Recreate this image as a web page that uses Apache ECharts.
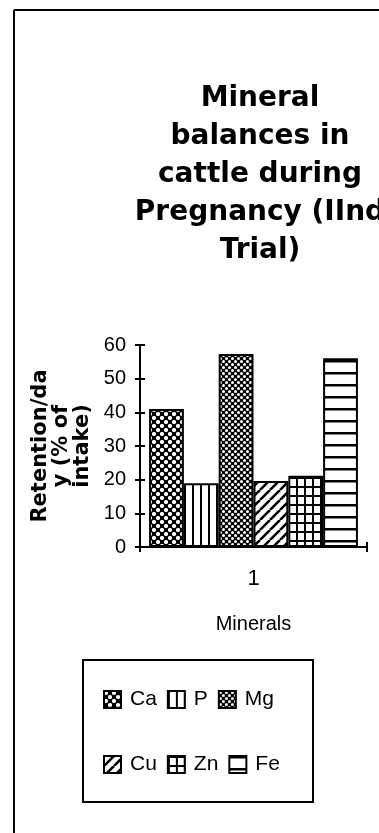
<!DOCTYPE html>
<html>
<head>
<meta charset="utf-8">
<script src="https://cdn.jsdelivr.net/npm/echarts@6/dist/echarts.min.js"></script>
<style>
  html, body { margin: 0; padding: 0; background: #fff; }
  #chart { width: 379px; height: 833px; }
</style>
</head>
<body>
<div id="chart"></div>
<script>
// Mineral retention per day, % of intake (one trial group)
const categories = ['1'];
const minerals = ['Ca', 'P', 'Mg', 'Cu', 'Zn', 'Fe'];
const retention = [41, 18.9, 57.3, 19.6, 21.2, 56.1];
const yMin = 0, yMax = 60, yStep = 10;

// Black-and-white fill patterns, one per mineral
function tile(w, h, draw) {
  const c = document.createElement('canvas');
  c.width = w; c.height = h;
  const g = c.getContext('2d');
  g.fillStyle = '#fff';
  g.fillRect(0, 0, w, h);
  g.fillStyle = '#000';
  g.strokeStyle = '#000';
  draw(g, w, h);
  return { image: c, repeat: 'repeat' };
}
function dots(size, r) {
  return tile(size, size, (g, w, h) => {
    g.fillRect(0, 0, w, h);
    g.fillStyle = '#fff';
    [[w / 4, h / 4], [3 * w / 4, 3 * h / 4]].forEach(([x, y]) => {
      g.beginPath(); g.arc(x, y, r, 0, Math.PI * 2); g.fill();
    });
  });
}
const patterns = {
  Ca: dots(8, 2.1),
  P: tile(8, 8, g => g.fillRect(0, 0, 2, 8)),
  Mg: dots(6, 1.5),
  Cu: tile(10, 10, g => {
    g.lineWidth = 2.6;
    g.beginPath();
    for (let k = -10; k <= 20; k += 10) { g.moveTo(k, 10); g.lineTo(k + 10, 0); }
    g.stroke();
  }),
  Zn: tile(8, 9, g => { g.fillRect(0, 0, 2, 9); g.fillRect(0, 0, 8, 2); }),
  Fe: tile(4, 12, g => g.fillRect(0, 0, 4, 2.5))
};

const chart = echarts.init(document.getElementById('chart'), null, { renderer: 'canvas' });
const sans = '"Liberation Sans", Arial, sans-serif';

const series = minerals.map((m, i) => ({
  name: m,
  type: 'bar',
  barGap: '0%',
  barCategoryGap: '8%',
  data: categories.map(() => retention[i]),
  itemStyle: { color: patterns[m], borderColor: '#000', borderWidth: 2 }
}));

function legendRow(names, top) {
  return {
    data: names,
    left: 98,
    top: top,
    orient: 'horizontal',
    icon: 'rect',
    itemWidth: 17,
    itemHeight: 17,
    itemGap: 10,
    selectedMode: false,
    textStyle: { fontFamily: sans, fontSize: 21, color: '#000', width: 40, padding: [0, 0, 0, 4] }
  };
}

chart.setOption({
  animation: false,
  backgroundColor: '#fff',
  title: {
    text: 'Mineral\nbalances in\ncattle during\nPregnancy (IInd\nTrial)',
    left: 255,
    top: 75,
    textAlign: 'center',
    textStyle: {
      fontFamily: '"DejaVu Sans", sans-serif',
      fontWeight: 'bold',
      fontSize: 28,
      lineHeight: 38,
      color: '#000'
    }
  },
  grid: { left: 140, right: 12, top: 345, bottom: 286, containLabel: false },
  legend: [legendRow(['Ca', 'P', 'Mg'], 684), legendRow(['Cu', 'Zn', 'Fe'], 749)],
  xAxis: [{
    type: 'category',
    data: categories,
    position: 'bottom',
    name: 'Minerals',
    nameLocation: 'middle',
    nameGap: 67,
    nameTextStyle: { fontFamily: sans, fontSize: 20, color: '#000' },
    axisLine: { lineStyle: { color: '#000', width: 2 } },
    axisTick: { show: true, length: 5, lineStyle: { color: '#000', width: 2 } },
    axisLabel: { margin: 21, fontFamily: sans, fontSize: 22, color: '#000' },
    splitLine: { show: false }
  }, {
    type: 'category',
    data: categories,
    position: 'bottom',
    axisLine: { show: false },
    axisTick: { show: true, inside: true, length: 5, lineStyle: { color: '#000', width: 2 } },
    axisLabel: { show: false }
  }],
  yAxis: [{
    type: 'value',
    min: yMin, max: yMax, interval: yStep,
    position: 'left',
    name: 'Retention/da\ny (% of\nintake)',
    nameLocation: 'middle',
    nameRotate: 90,
    nameGap: 40,
    nameTextStyle: {
      fontFamily: '"DejaVu Sans", sans-serif',
      fontWeight: 'bold', fontSize: 21, lineHeight: 21, color: '#000'
    },
    axisLine: { show: true, lineStyle: { color: '#000', width: 2 } },
    axisTick: { show: true, length: 5, lineStyle: { color: '#000', width: 2 } },
    axisLabel: { margin: 14, fontFamily: sans, fontSize: 20, color: '#000' },
    splitLine: { show: false }
  }, {
    type: 'value',
    min: yMin, max: yMax, interval: yStep,
    position: 'left',
    axisLine: { show: false },
    axisTick: { show: true, inside: true, length: 5, lineStyle: { color: '#000', width: 2 } },
    axisLabel: { show: false },
    splitLine: { show: false }
  }],
  series: series,
  graphic: [
    { type: 'line', shape: { x1: 14, y1: 10, x2: 14, y2: 833 }, style: { stroke: '#000', lineWidth: 2 } },
    { type: 'line', shape: { x1: 14, y1: 10, x2: 379, y2: 10 }, style: { stroke: '#000', lineWidth: 2 } },
    { type: 'rect', shape: { x: 83, y: 660, width: 230, height: 142 }, style: { fill: 'none', stroke: '#000', lineWidth: 2 } }
  ]
});
</script>
</body>
</html>
